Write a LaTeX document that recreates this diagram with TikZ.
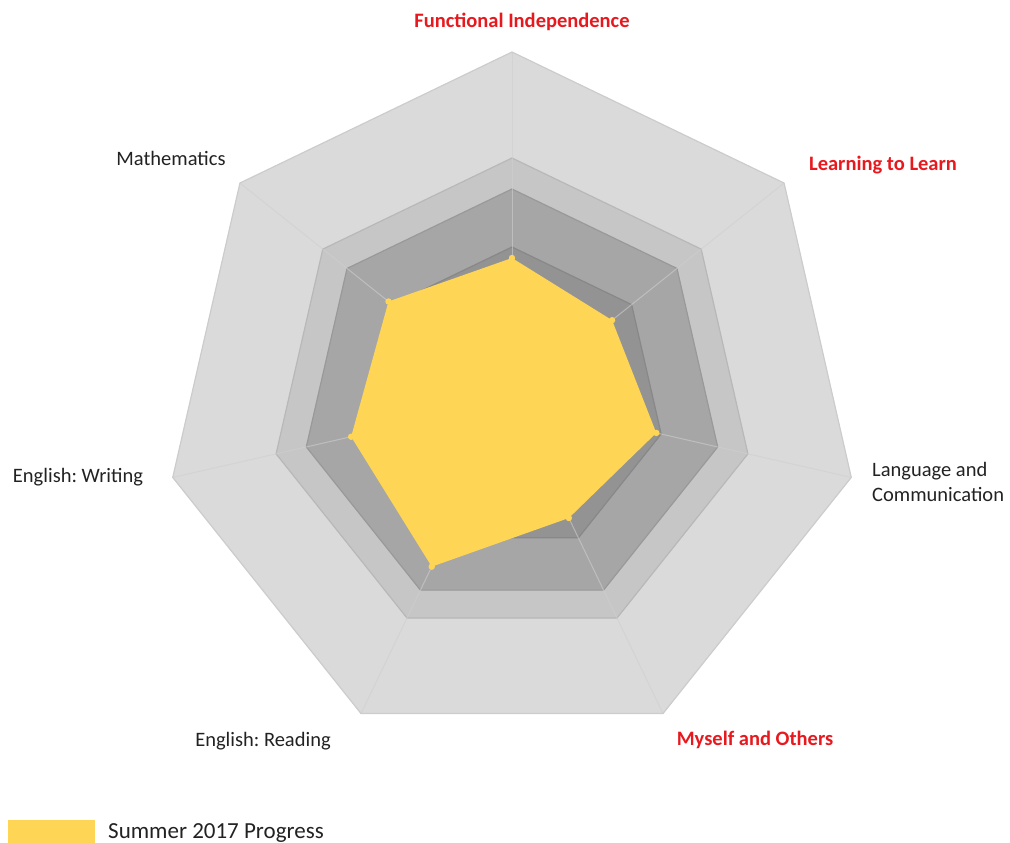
\documentclass[tikz,border=0pt]{standalone}
\usepackage{fontspec}
\setmainfont{Carlito}
\frenchspacing
\definecolor{bandA}{HTML}{DADADA}
\definecolor{bandAline}{HTML}{CCCCCC}
\definecolor{bandB}{HTML}{C6C6C6}
\definecolor{bandBline}{HTML}{B8B8B8}
\definecolor{bandC}{HTML}{A6A6A6}
\definecolor{bandCline}{HTML}{999999}
\definecolor{bandD}{HTML}{939393}
\definecolor{bandDline}{HTML}{888888}
\definecolor{spoke}{HTML}{CFCFCF}
\definecolor{gold}{HTML}{FFD555}
\definecolor{labred}{HTML}{E8191E}
\definecolor{labblack}{HTML}{222222}
\tikzset{
  axlabel/.style={font=\fontsize{20.5bp}{25bp}\selectfont, text=labblack, inner sep=0pt},
  redlabel/.style={axlabel, text=labred, font=\fontsize{20.5bp}{25bp}\selectfont\bfseries},
  bandpoly/.style={line width=1.2bp, line join=miter},
}
\newcommand\mkring[2]{%
  \foreach \i in {0,...,6}{%
    \coordinate (#2\i) at ({512+#1*cos(90-\i*360/7)},{400-#1*sin(90-\i*360/7)});}%
}
\begin{document}
\frenchspacing
\begin{tikzpicture}[x=1bp,y=-1bp]
\useasboundingbox (0,0) rectangle (1010,843);
\coordinate (ctr) at (512,400);
\mkring{348}{a}
\mkring{242}{b}
\mkring{211}{c}
\mkring{153}{d}
\foreach \r [count=\i from 0] in {142,128,148,131,185,165,158}{%
  \coordinate (y\i) at ({512+\r*cos(90-\i*360/7)},{400-\r*sin(90-\i*360/7)});}
% bands
\filldraw[bandpoly, fill=bandA, draw=bandAline] (a0)--(a1)--(a2)--(a3)--(a4)--(a5)--(a6)--cycle;
\filldraw[bandpoly, fill=bandB, draw=bandBline] (b0)--(b1)--(b2)--(b3)--(b4)--(b5)--(b6)--cycle;
\filldraw[bandpoly, fill=bandC, draw=bandCline] (c0)--(c1)--(c2)--(c3)--(c4)--(c5)--(c6)--cycle;
\filldraw[bandpoly, fill=bandD, draw=bandDline] (d0)--(d1)--(d2)--(d3)--(d4)--(d5)--(d6)--cycle;
% spokes
\foreach \i in {0,...,6}{\draw[spoke, line width=1bp, opacity=0.6] (ctr) -- (a\i);}
% data
\fill[gold] (y0)--(y1)--(y2)--(y3)--(y4)--(y5)--(y6)--cycle;
\foreach \i in {0,...,6}{\fill[gold] (y\i) circle (3.2bp);}
% labels
\node[redlabel] (lab0) at (522,22) {Functional Independence};
\node[redlabel] (lab1) at (883,165) {Learning to Learn};
\node[axlabel, anchor=west, align=left] (lab2) at (872,482) {Language and\\Communication};
\node[redlabel] (lab3) at (755,740) {Myself and Others};
\node[axlabel] (lab4) at (263,741) {English: Reading};
\node[axlabel] (lab5) at (78,477) {English: Writing};
\node[axlabel] (lab6) at (171,158) {Mathematics};
% legend
\fill[gold] (8,820) rectangle (95,843);
\node[axlabel, anchor=west, font=\fontsize{23bp}{27bp}\selectfont] (leg) at (108,833) {Summer 2017 Progress};
\end{tikzpicture}
\end{document}
